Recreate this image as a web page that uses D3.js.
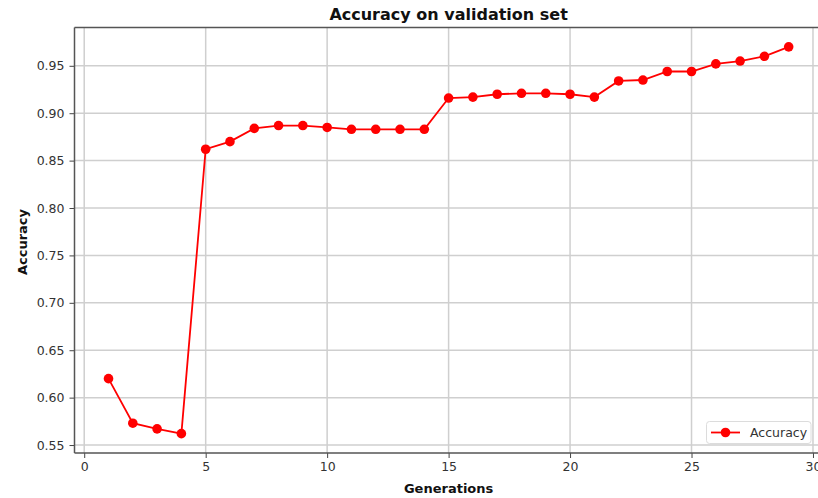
<!DOCTYPE html>
<html>
<head>
<meta charset="utf-8">
<script src="https://cdn.jsdelivr.net/npm/d3@7"></script>
<style>
  html, body { margin: 0; padding: 0; background: #fff; }
  svg { display: block; }
  text { font-family: "DejaVu Sans", sans-serif; }
</style>
</head>
<body>
<svg id="chart" width="818" height="498"></svg>
<script>
// Validation accuracy per generation
const generations = d3.range(1, 30);
const accuracy = [
  0.620, 0.573, 0.567, 0.562, 0.862, 0.870, 0.884, 0.887, 0.887, 0.885,
  0.883, 0.883, 0.883, 0.883, 0.916, 0.917, 0.920, 0.921, 0.921, 0.920,
  0.917, 0.934, 0.935, 0.944, 0.944, 0.952, 0.955, 0.960, 0.970
];
const xTicks = [0, 5, 10, 15, 20, 25, 30];
const yTicks = [0.55, 0.60, 0.65, 0.70, 0.75, 0.80, 0.85, 0.90, 0.95];

const svg = d3.select("#chart");
const plotLeft = 74.5, plotRight = 822.7, plotTop = 27.5, plotBottom = 453;

const x = d3.scaleLinear().domain([-0.4, 30.4]).range([plotLeft, plotRight]);
const y = d3.scaleLinear().domain([0.5416, 0.9904]).range([plotBottom, plotTop]);

// grid
const grid = svg.append("g").attr("stroke", "#cfcfcf").attr("stroke-width", 1.5);
grid.selectAll("line.gx").data(xTicks).join("line")
  .attr("x1", d => x(d)).attr("x2", d => x(d))
  .attr("y1", plotTop).attr("y2", plotBottom);
grid.selectAll("line.gy").data(yTicks).join("line")
  .attr("x1", plotLeft).attr("x2", plotRight)
  .attr("y1", d => y(d)).attr("y2", d => y(d));

// axes
const xAxis = svg.append("g")
  .attr("transform", `translate(0,${plotBottom})`)
  .call(d3.axisBottom(x).tickValues(xTicks).tickFormat(d3.format("d")).tickSize(5).tickPadding(4));
const yAxis = svg.append("g")
  .attr("transform", `translate(${plotLeft},0)`)
  .call(d3.axisLeft(y).tickValues(yTicks).tickFormat(d3.format(".2f")).tickSize(5).tickPadding(5));
[xAxis, yAxis].forEach(g => {
  g.select(".domain").remove();
  g.selectAll(".tick line").attr("stroke", "#444").attr("stroke-width", 1);
  g.selectAll(".tick text").attr("fill", "#333").style("font-size", "12.5px").style("font-family", "DejaVu Sans, sans-serif");
});

// spines
const spine = svg.append("g").attr("stroke", "#555").attr("stroke-width", 1.5).attr("fill", "none");
spine.append("line").attr("x1", plotLeft).attr("x2", plotLeft).attr("y1", plotTop).attr("y2", plotBottom);
spine.append("line").attr("x1", plotLeft).attr("x2", plotRight).attr("y1", plotBottom).attr("y2", plotBottom);
spine.append("line").attr("x1", plotLeft).attr("x2", plotRight).attr("y1", plotTop).attr("y2", plotTop);
spine.append("line").attr("x1", plotRight).attr("x2", plotRight).attr("y1", plotTop).attr("y2", plotBottom);

// series
const pts = generations.map((g, i) => [g, accuracy[i]]);
svg.append("path").datum(pts)
  .attr("fill", "none").attr("stroke", "#ff0000").attr("stroke-width", 1.8)
  .attr("d", d3.line().x(d => x(d[0])).y(d => y(d[1])));
svg.append("g").selectAll("circle").data(pts).join("circle")
  .attr("cx", d => x(d[0])).attr("cy", d => y(d[1])).attr("r", 4.8)
  .attr("fill", "#ff0000");

// title and axis labels
svg.append("text").attr("x", (plotLeft + plotRight) / 2).attr("y", 20)
  .attr("text-anchor", "middle").style("font-weight", "bold").style("font-size", "16px")
  .attr("fill", "#111").text("Accuracy on validation set");
svg.append("text").attr("x", (plotLeft + plotRight) / 2).attr("y", 493)
  .attr("text-anchor", "middle").style("font-weight", "bold").style("font-size", "13px")
  .attr("fill", "#111").text("Generations");
svg.append("text").attr("transform", `translate(27,242) rotate(-90)`)
  .attr("text-anchor", "middle").style("font-weight", "bold").style("font-size", "13px")
  .attr("fill", "#111").text("Accuracy");

// legend
const lg = svg.append("g");
lg.append("rect").attr("x", 706.5).attr("y", 421.5).attr("width", 104.5).attr("height", 22)
  .attr("rx", 3).attr("fill", "#fff").attr("fill-opacity", 0.85).attr("stroke", "#dcdcdc");
lg.append("line").attr("x1", 711).attr("x2", 740).attr("y1", 432.5).attr("y2", 432.5)
  .attr("stroke", "#ff0000").attr("stroke-width", 1.8);
lg.append("circle").attr("cx", 725.5).attr("cy", 432.5).attr("r", 4.8).attr("fill", "#ff0000");
lg.append("text").attr("x", 750).attr("y", 437).style("font-size", "12.5px")
  .attr("fill", "#333").text("Accuracy");
</script>
</body>
</html>
